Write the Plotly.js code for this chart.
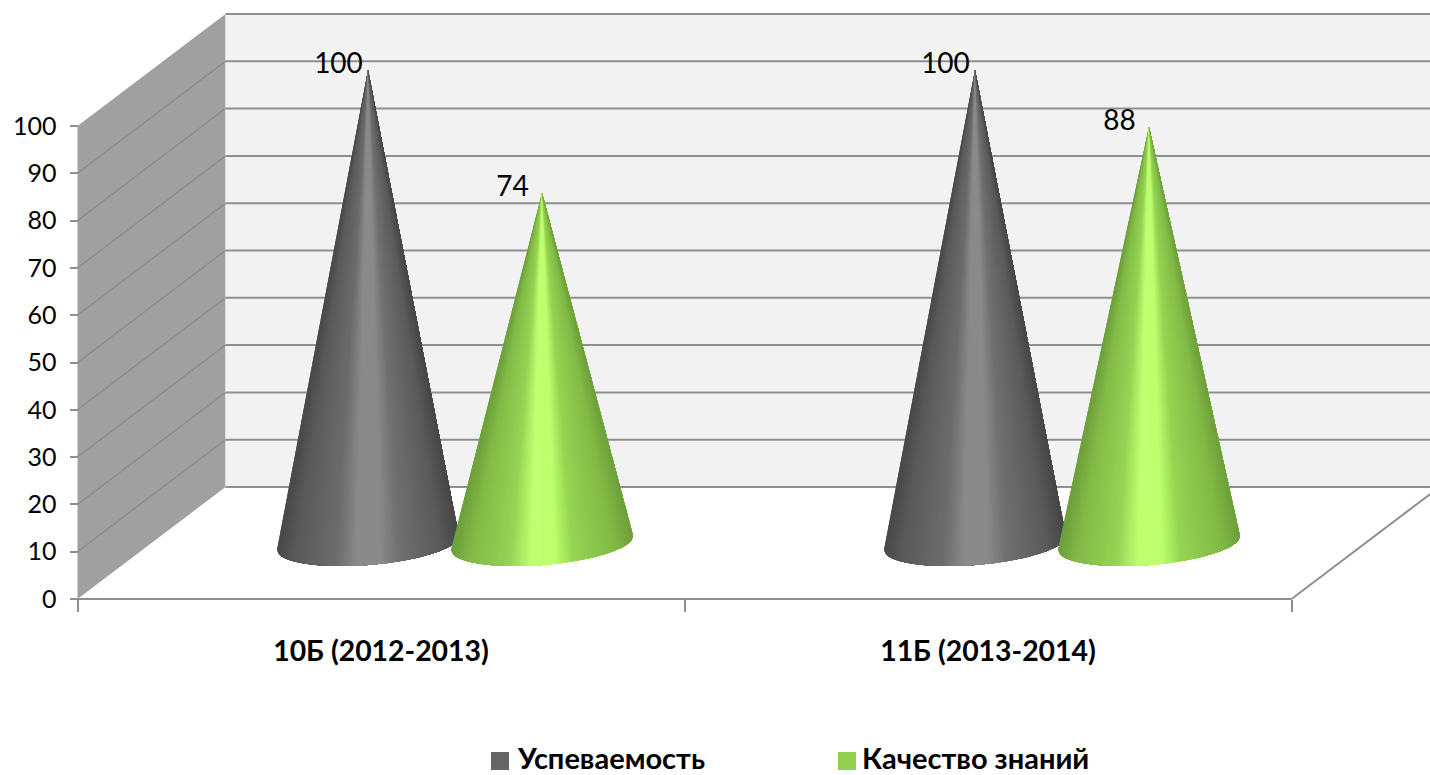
<!DOCTYPE html>
<html><head><meta charset="utf-8">
<script src="https://cdn.plot.ly/plotly-3.0.1.min.js"></script>
<style>html,body{margin:0;padding:0;background:#fff;overflow:hidden}#chart{width:1430px;height:775px}</style>
</head><body><div id="chart"></div>
<script>
var categories = ['10Б (2012-2013)', '11Б (2013-2014)'];
var seriesNames = ['Успеваемость', 'Качество знаний'];
var uspevaemost = [100, 100];
var kachestvo = [74, 88];
var yTicks = [0,10,20,30,40,50,60,70,80,90,100];
var legendColors = ['#666666', '#92D050'];
// shading stops across the cone: [position -1..1, r, g, b]
var shadeGrey = [[-1,72,72,72],[-0.8,90,90,90],[-0.35,108,108,108],[-0.12,138,138,138],[0.14,138,138,138],[0.35,112,112,112],[0.8,90,90,90],[1,70,70,70]];
var shadeGreen = [[-1,108,158,58],[-0.8,130,186,70],[-0.35,150,212,84],[-0.12,192,255,112],[0.14,190,255,110],[0.35,150,212,82],[0.8,130,186,70],[1,110,160,58]];

// page geometry -> axis ranges
var W = 1430, H = 775, X0 = 77.5, CAT = 607, Y0 = 599, UNIT = 4.73;
var xRange = [-0.5 - X0 / CAT, -0.5 + (W - X0) / CAT];
var yRange = [-(H - Y0) / UNIT, Y0 / UNIT];
var DX = 148 / CAT, DY = 112 / UNIT;      // full depth of the 3D box
var SERIES_OFF = 87 / CAT, RX = 91 / CAT, RY = 22 / UNIT, TILT = 7 / UNIT;
var GRID = '#8f8f8f';
var FONT = 'Lato, "Noto Sans", sans-serif';

function shade(stops, u) {
  for (var i = 1; i < stops.length; i++) {
    if (u <= stops[i][0]) {
      var a = stops[i-1], b = stops[i], f = (u - a[0]) / (b[0] - a[0]);
      return 'rgb(' + [1,2,3].map(function (k) { return Math.round(a[k] + (b[k] - a[k]) * f); }).join(',') + ')';
    }
  }
  var l = stops[stops.length-1];
  return 'rgb(' + l[1] + ',' + l[2] + ',' + l[3] + ')';
}

var traces = [];
function addCone(catIndex, side, value, stops) {
  var cx = catIndex + DX / 2 + side * SERIES_OFF, cy = DY / 2;
  var apexY = value + DY / 2;
  var N = 90;
  function pt(t) { return [cx + RX * Math.cos(t), cy + TILT * Math.cos(t) - RY * Math.sin(t)]; }
  // slices of equal width across the cone; painter's order avoids seams
  var ts = [Math.PI + 0.12];
  for (var k = 0; k <= N; k++) ts.push(Math.acos(-1 + 2 * k / N));
  ts.push(-0.12);
  for (var i = 0; i < ts.length - 1; i++) {
    var xs = [cx], ys = [apexY];
    for (var j = i; j < ts.length; j++) {
      var p = pt(ts[j]);
      xs.push(p[0]); ys.push(p[1]);
    }
    xs.push(cx); ys.push(apexY);
    var col = shade(stops, Math.max(-1, Math.min(1, (Math.cos(ts[i]) + Math.cos(ts[i + 1])) / 2)));
    traces.push({
      type: 'scatter', mode: 'lines', x: xs, y: ys,
      fill: 'toself', fillcolor: col, line: {width: 0}, hoverinfo: 'skip', showlegend: false
    });
  }
}
[uspevaemost, kachestvo].forEach(function (vals, s) {
  vals.forEach(function (v, c) { addCone(c, s === 0 ? -1 : 1, v, s === 0 ? shadeGrey : shadeGreen); });
});
// data labels
var labelX = [], labelY = [], labelT = [];
[uspevaemost, kachestvo].forEach(function (vals, s) {
  vals.forEach(function (v, c) {
    labelX.push(c + DX / 2 + (s === 0 ? -1 : 1) * SERIES_OFF - 29.5 / CAT);
    labelY.push(v + DY / 2 + 4 / UNIT);
    labelT.push(String(v));
  });
});
traces.push({type: 'scatter', mode: 'text', x: labelX, y: labelY, text: labelT, textposition: 'middle center',
  textfont: {family: FONT, size: 28, color: '#000'}, hoverinfo: 'skip', showlegend: false, cliponaxis: false});

var shapes = [];
// left wall
shapes.push({type: 'path', layer: 'below', xref: 'x', yref: 'y',
  path: 'M -0.5 0 L ' + (-0.5 + DX) + ' ' + DY + ' L ' + (-0.5 + DX) + ' ' + (100 + DY) + ' L -0.5 100 Z',
  fillcolor: '#a0a0a0', line: {width: 0}});
// back wall
shapes.push({type: 'rect', layer: 'below', xref: 'x', yref: 'y', x0: -0.5 + DX, x1: 1.5 + DX, y0: DY, y1: 100 + DY,
  fillcolor: '#f2f2f2', line: {width: 0}});
yTicks.forEach(function (t) {
  shapes.push({type: 'line', layer: 'below', x0: -0.5 + DX, x1: 1.5 + DX, y0: t + DY, y1: t + DY, line: {color: GRID, width: 2}});
  if (t > 0 && t < 100) shapes.push({type: 'line', layer: 'below', x0: -0.5, x1: -0.5 + DX, y0: t, y1: t + DY, line: {color: '#8a8a8a', width: 1.2}});
});
// floor edges
shapes.push({type: 'line', layer: 'below', x0: -0.5, x1: 1.5, y0: 0, y1: 0, line: {color: GRID, width: 2}});
shapes.push({type: 'line', layer: 'below', x0: 1.5, x1: 1.5 + DX, y0: 0, y1: DY, line: {color: GRID, width: 2}});
// legend keys
var annotations = [];
[[491, 517], [838, 862]].forEach(function (p, i) {
  shapes.push({type: 'rect', xref: 'paper', yref: 'paper', x0: p[0] / W, x1: (p[0] + 18) / W, y0: 1 - 770 / H, y1: 1 - 752 / H,
    fillcolor: legendColors[i], line: {width: 0}});
  annotations.push({xref: 'paper', yref: 'paper', x: p[1] / W, y: 1 - 757 / H, xanchor: 'left', yanchor: 'middle', showarrow: false,
    text: '<b>' + seriesNames[i] + '</b>', font: {family: FONT, size: 29, color: '#000'}, borderpad: 0, xshift: -1});
});

var layout = {
  width: W, height: H, margin: {l: 0, r: 0, t: 0, b: 0, pad: 0},
  paper_bgcolor: '#fff', plot_bgcolor: '#fff', showlegend: false,
  xaxis: {
    type: 'linear', range: xRange, domain: [0, 1], anchor: 'free', position: (H - Y0) / H,
    showgrid: false, zeroline: false, showline: false, tickmode: 'array', tickvals: [0, 1], ticktext: categories.map(function (c) { return '<b>' + c + '</b>'; }),
    ticks: '', ticklabelstandoff: 33, tickfont: {family: FONT, size: 28.4, color: '#000'},
    minor: {tickmode: 'array', tickvals: [-0.5, 0.5, 1.5], ticks: 'outside', ticklen: 12, tickwidth: 2, tickcolor: GRID, showgrid: false}
  },
  yaxis: {
    type: 'linear', range: yRange, domain: [0, 1], anchor: 'free', position: X0 / W,
    showgrid: false, zeroline: false, showline: false, tickmode: 'array', tickvals: yTicks,
    ticks: 'outside', ticklen: 8, tickwidth: 2, tickcolor: GRID, ticklabelstandoff: 8,
    tickfont: {family: FONT, size: 25, color: '#000'}
  },
  shapes: shapes, annotations: annotations, hovermode: false
};
Plotly.newPlot('chart', traces, layout, {displayModeBar: false, staticPlot: true});
</script></body></html>
